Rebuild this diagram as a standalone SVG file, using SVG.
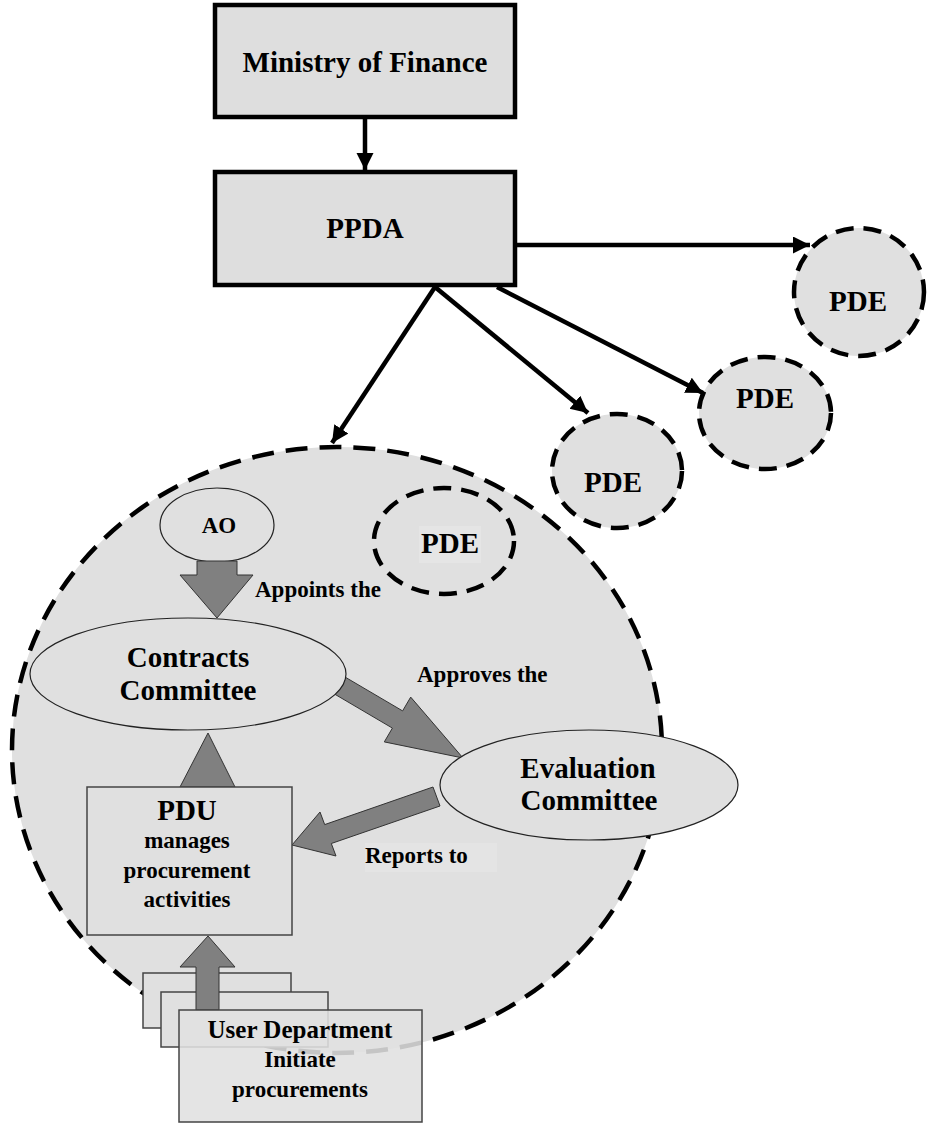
<svg xmlns="http://www.w3.org/2000/svg" width="927" height="1123" viewBox="0 0 927 1123">
  <style>
    text { font-family: "Liberation Serif", "Times New Roman", serif; font-weight: bold; fill: #000; text-anchor: middle; }
    .box { fill: #dedede; stroke: #000; stroke-width: 4.5; }
    .thinbox { fill: #e0e0e0; stroke: #444; stroke-width: 1.5; }
    .ell { fill: #e0e0e0; stroke: #222; stroke-width: 1.2; }
    .pde { fill: #e0e0e0; stroke: #000; stroke-width: 4.5; stroke-dasharray: 18 10; }
    .line { stroke: #000; stroke-width: 4.5; fill: none; marker-end: url(#head); }
    .block { fill: #808080; stroke: #333; stroke-width: 1; }
    .t29 { font-size: 29px; }
    .t23 { font-size: 23px; }
    .start { text-anchor: start; }
  </style>
  <defs>
    <marker id="head" markerUnits="userSpaceOnUse" markerWidth="20" markerHeight="18" refX="17" refY="8.5" orient="auto">
      <path d="M0,0 L17,8.5 L0,17 Z" fill="#000"/>
    </marker>
  </defs>

  <rect width="927" height="1123" fill="#fff"/>

  <!-- Procuring entity (large) -->
  <g id="pde-main">
    <ellipse cx="337" cy="750" rx="325" ry="303" fill="#e0e0e0" stroke="#000" stroke-width="4.5" stroke-dasharray="22 12"/>
  </g>

  <!-- connectors -->
  <g id="connectors">
    <line class="line" x1="365" y1="119" x2="365" y2="170"/>
    <line class="line" x1="517" y1="245" x2="810" y2="245"/>
    <line class="line" x1="497" y1="287" x2="703" y2="393"/>
    <line class="line" x1="435" y1="287" x2="588" y2="413"/>
    <line class="line" x1="435" y1="287" x2="332" y2="443"/>
  </g>

  <g id="ministry">
    <rect class="box" x="215" y="5" width="300" height="112"/>
    <text class="t29" x="365" y="72">Ministry of Finance</text>
  </g>

  <g id="ppda">
    <rect class="box" x="215" y="172" width="300" height="113"/>
    <text class="t29" x="365" y="238">PPDA</text>
  </g>

  <g id="pde-1">
    <ellipse class="pde" cx="859" cy="292" rx="65" ry="64"/>
    <text class="t29" x="858" y="311">PDE</text>
  </g>
  <g id="pde-2">
    <ellipse class="pde" cx="765" cy="413" rx="66" ry="56"/>
    <text class="t29" x="765" y="408">PDE</text>
  </g>
  <g id="pde-3">
    <ellipse class="pde" cx="617" cy="471" rx="65" ry="57"/>
    <text class="t29" x="613" y="492">PDE</text>
  </g>
  <g id="pde-inner">
    <ellipse class="pde" cx="444" cy="541" rx="70" ry="53"/>
    <rect x="419" y="526" width="62" height="37" fill="#e5e5e5"/>
    <text class="t29" x="450" y="553">PDE</text>
  </g>

  <g id="ao">
    <ellipse class="ell" cx="217" cy="525" rx="57" ry="37"/>
    <text class="t23" x="219" y="533">AO</text>
  </g>

  <!-- block arrows between internal units -->
  <g id="block-arrows">
    <polygon class="block" points="197,561 237,561 237,575 253,575 217,618 180,575 197,575"/>
    <polygon class="block" points="344.8,676.9 402.6,710.9 410.7,697.1 463,758 384.3,741.9 392.4,728.1 334.6,694.1"/>
    <polygon class="block" points="433,787 324.7,824.6 320,812 292,845 336,856 331.3,843.5 440,806"/>
    <polygon class="block" points="180,787 235,787 208,733"/>
  </g>

  <g id="label-appoints">
    <text class="t23 start" x="255" y="597">Appoints the</text>
  </g>
  <g id="label-approves">
    <text class="t23 start" x="417" y="682">Approves the</text>
  </g>
  <g id="label-reports">
    <rect x="365" y="843" width="132" height="29" fill="#e4e4e4"/>
    <text class="t23 start" x="365" y="863">Reports to</text>
  </g>

  <g id="contracts-committee">
    <ellipse class="ell" cx="188" cy="674" rx="158" ry="56"/>
    <text class="t29" x="188" y="667">Contracts</text>
    <text class="t29" x="188" y="700">Committee</text>
  </g>

  <g id="evaluation-committee">
    <ellipse class="ell" cx="589" cy="785" rx="149" ry="55"/>
    <text class="t29" x="588" y="778">Evaluation</text>
    <text class="t29" x="589" y="810">Committee</text>
  </g>

  <g id="pdu">
    <rect class="thinbox" x="87" y="787" width="205" height="148"/>
    <text class="t29" x="187" y="820">PDU</text>
    <text class="t23" x="187" y="848">manages</text>
    <text class="t23" x="187" y="878">procurement</text>
    <text class="t23" x="187" y="907">activities</text>
  </g>

  <g id="user-department">
    <rect class="thinbox" x="143" y="973" width="148" height="55"/>
    <rect class="thinbox" x="161" y="992" width="167" height="55"/>
    <polygon class="block" points="196,1010 219,1010 219,967 235,967 208,936 180,967 196,967"/>
    <rect x="179" y="1010" width="243" height="112" fill="#e0e0e0" fill-opacity="0.88" stroke="#444" stroke-width="1.5"/>
    <text x="300" y="1038" style="font-size:25px">User Department</text>
    <text class="t23" x="300" y="1067">Initiate</text>
    <text class="t23" x="300" y="1097">procurements</text>
  </g>
</svg>
